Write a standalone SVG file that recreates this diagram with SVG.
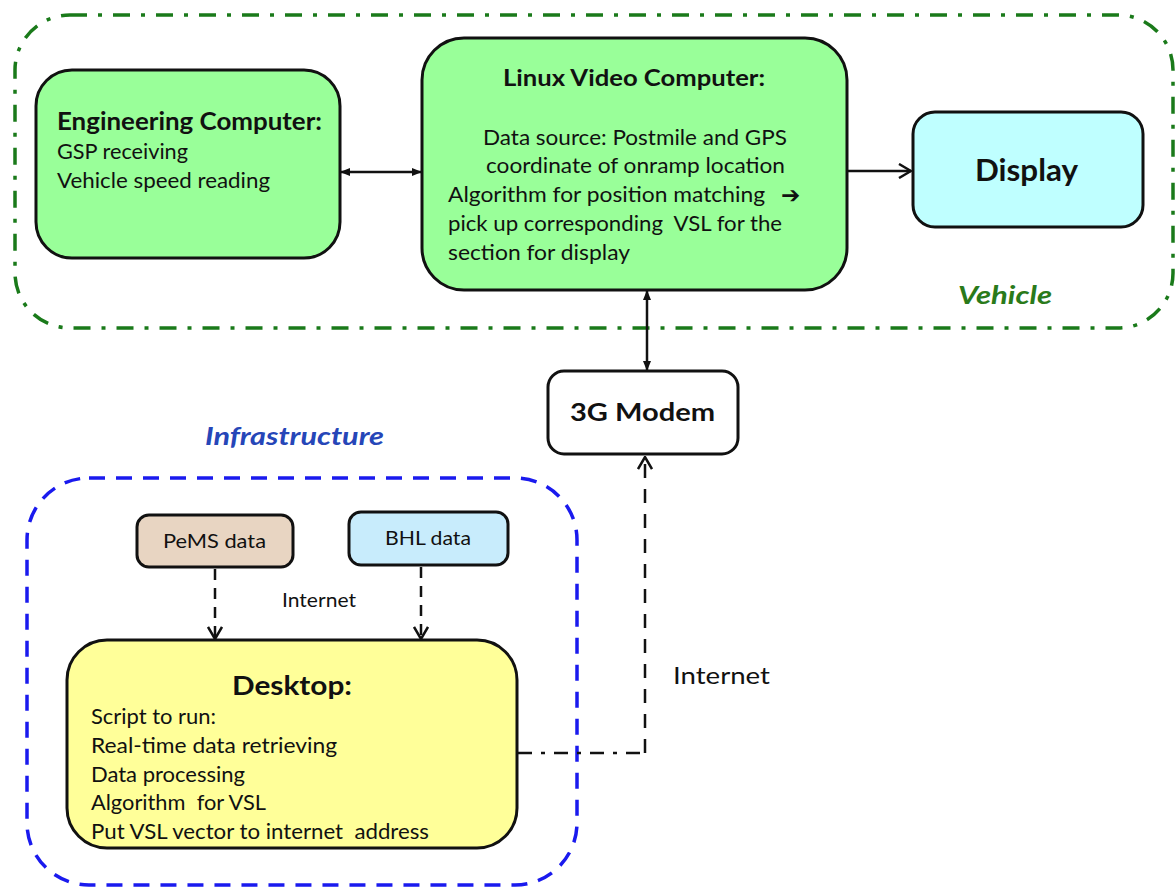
<svg xmlns="http://www.w3.org/2000/svg" width="1176" height="889" viewBox="0 0 1176 889">
<style>
.box{stroke:#111;stroke-width:3}
.t{font-family:Lato,"Liberation Sans",sans-serif;fill:#111}
.b{font-weight:bold}
.c{text-anchor:middle}
.body{font-size:21px}
.con{stroke:#111;stroke-width:2.5;fill:none}
</style>
<defs>
<marker id="tri" viewBox="0 0 10 10" refX="9" refY="5" markerWidth="10" markerHeight="10" markerUnits="userSpaceOnUse" orient="auto-start-reverse">
<path d="M0,1 L10,5 L0,9 z" fill="#111"/>
</marker>
<marker id="open" viewBox="0 0 14 16" refX="13" refY="8" markerWidth="14" markerHeight="16" markerUnits="userSpaceOnUse" orient="auto">
<path d="M1,1 L13,8 L1,15" fill="none" stroke="#111" stroke-width="2.5"/>
</marker>
</defs>

<g id="vehicle-group">
<rect x="15" y="15" width="1158" height="313" rx="55" fill="none" stroke="#1a7a1a" stroke-width="3.5" stroke-dasharray="17 11 4 11"/>
<text x="958" y="304" font-family="Lato,'Liberation Sans',sans-serif" font-weight="bold" font-size="25" font-style="italic" fill="#2a7a1a" textLength="94" lengthAdjust="spacingAndGlyphs">Vehicle</text>
</g>

<g id="infrastructure-group">
<rect x="27" y="478" width="550" height="407" rx="62" fill="none" stroke="#1a1aee" stroke-width="3.5" stroke-dasharray="16 11"/>
<text x="205" y="445" font-family="Lato,'Liberation Sans',sans-serif" font-weight="bold" font-size="25" font-style="italic" fill="#2646b8" textLength="179" lengthAdjust="spacingAndGlyphs">Infrastructure</text>
</g>

<g id="connectors">
<line class="con" x1="341" y1="172" x2="421" y2="172" marker-start="url(#tri)" marker-end="url(#tri)"/>
<line class="con" x1="848" y1="171" x2="911" y2="171" marker-end="url(#open)"/>
<line class="con" x1="647" y1="291" x2="647" y2="370" marker-start="url(#tri)" marker-end="url(#tri)"/>
<line class="con" x1="215" y1="569" x2="215" y2="639" stroke-dasharray="11 8" marker-end="url(#open)"/>
<line class="con" x1="421" y1="567" x2="421" y2="639" stroke-dasharray="11 8" marker-end="url(#open)"/>
<path class="con" d="M518,753 H645" stroke-dasharray="14 9 4 9"/>
<path class="con" d="M645,753 V457" stroke-dasharray="14 11" marker-end="url(#open)"/>
<text class="t" x="673" y="684" font-size="23" textLength="97" lengthAdjust="spacingAndGlyphs">Internet</text>
<text class="t" x="282" y="607" font-size="19" textLength="74" lengthAdjust="spacingAndGlyphs">Internet</text>
</g>

<g id="engineering-computer">
<rect class="box" x="36" y="70" width="304" height="188" rx="36" fill="#99ff99"/>
<text class="t b" x="57" y="130" font-size="24" textLength="265" lengthAdjust="spacingAndGlyphs">Engineering Computer:</text>
<text class="t body" x="57" y="159" textLength="131" lengthAdjust="spacingAndGlyphs">GSP receiving</text>
<text class="t body" x="57" y="188" textLength="213" lengthAdjust="spacingAndGlyphs">Vehicle speed reading</text>
</g>

<g id="linux-video-computer">
<rect class="box" x="422" y="38" width="425" height="252" rx="42" fill="#99ff99"/>
<text class="t b" x="503" y="86" font-size="22" textLength="262" lengthAdjust="spacingAndGlyphs">Linux Video Computer:</text>
<text class="t body" x="483" y="145" textLength="304" lengthAdjust="spacingAndGlyphs">Data source: Postmile and GPS</text>
<text class="t body" x="486" y="173" textLength="299" lengthAdjust="spacingAndGlyphs">coordinate of onramp location</text>
<text class="t body" x="448" y="202" textLength="317" lengthAdjust="spacingAndGlyphs">Algorithm for position matching</text>
<text x="781" y="203" font-family="'DejaVu Sans',sans-serif" font-weight="bold" font-size="23" fill="#111">➔</text>
<text class="t body" x="448" y="231" xml:space="preserve" textLength="334" lengthAdjust="spacingAndGlyphs">pick up corresponding  VSL for the</text>
<text class="t body" x="448" y="260" textLength="182" lengthAdjust="spacingAndGlyphs">section for display</text>
</g>

<g id="display">
<rect class="box" x="913" y="112" width="230" height="115" rx="22" fill="#bfffff"/>
<text class="t b" x="975" y="181" font-size="30" textLength="103" lengthAdjust="spacingAndGlyphs">Display</text>
</g>

<g id="modem-3g">
<rect class="box" x="548" y="371" width="190" height="83" rx="16" fill="#ffffff"/>
<text class="t b" x="570" y="421" font-size="25" textLength="145" lengthAdjust="spacingAndGlyphs">3G Modem</text>
</g>

<g id="pems-data">
<rect class="box" x="137" y="515" width="156" height="52" rx="12" fill="#e8d5c2"/>
<text class="t" x="163" y="548" font-size="20" textLength="103" lengthAdjust="spacingAndGlyphs">PeMS data</text>
</g>

<g id="bhl-data">
<rect class="box" x="349" y="512" width="159" height="53" rx="12" fill="#c8ecfc"/>
<text class="t" x="385" y="545" font-size="20" textLength="86" lengthAdjust="spacingAndGlyphs">BHL data</text>
</g>

<g id="desktop">
<rect class="box" x="67" y="640" width="450" height="208" rx="40" fill="#ffff99"/>
<text class="t b" x="232" y="695" font-size="27" textLength="120" lengthAdjust="spacingAndGlyphs">Desktop:</text>
<text class="t body" x="91" y="724" textLength="125" lengthAdjust="spacingAndGlyphs">Script to run:</text>
<text class="t body" x="91" y="753" textLength="246" lengthAdjust="spacingAndGlyphs">Real-time data retrieving</text>
<text class="t body" x="91" y="782" textLength="154" lengthAdjust="spacingAndGlyphs">Data processing</text>
<text class="t body" x="91" y="810" xml:space="preserve" textLength="175" lengthAdjust="spacingAndGlyphs">Algorithm  for VSL</text>
<text class="t body" x="91" y="839" xml:space="preserve" textLength="338" lengthAdjust="spacingAndGlyphs">Put VSL vector to internet  address</text>
</g>
</svg>
